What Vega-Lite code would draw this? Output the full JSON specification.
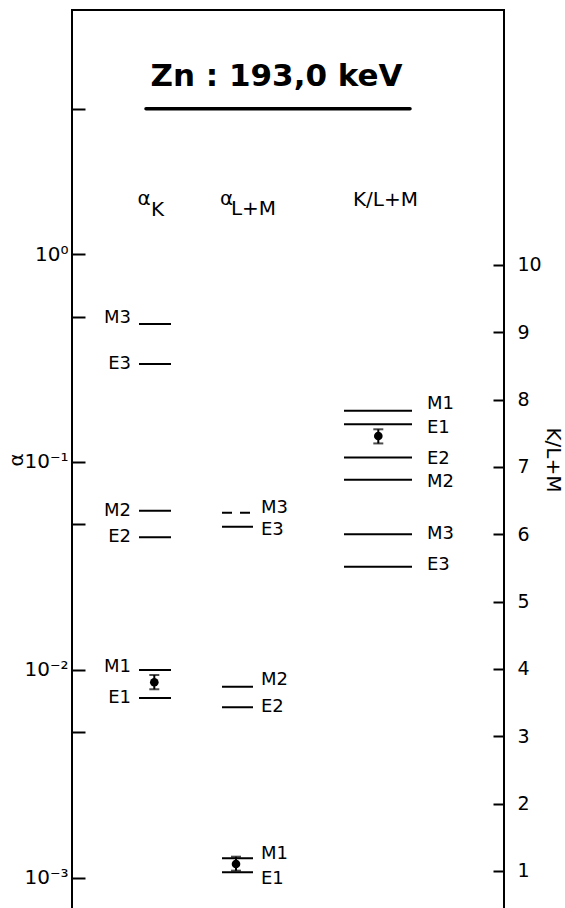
{
  "$schema": "https://vega.github.io/schema/vega-lite/v6.json",
  "width": 432,
  "height": 899,
  "autosize": {"type": "none"},
  "padding": {"left": 72, "top": 10, "right": 61, "bottom": 0},
  "background": "white",
  "config": {
    "view": {"stroke": "black", "strokeWidth": 2},
    "font": "DejaVu Sans",
    "text": {"font": "DejaVu Sans", "color": "black"},
    "axis": {"labelFont": "DejaVu Sans", "titleFont": "DejaVu Sans", "labelColor": "black", "titleColor": "black", "tickColor": "black", "grid": false, "domain": false, "labelOverlap": false, "titleFontWeight": "normal"}
  },
  "datasets": {
    "alpha_lines": [
      {"col": "αK", "name": "M3", "alpha": 0.4605, "tag": 0.495, "x": 67, "x2": 99, "source": "theory"},
      {"col": "αK", "name": "E3", "alpha": 0.2958, "tag": 0.2958, "x": 67, "x2": 99, "source": "theory"},
      {"col": "αK", "name": "M2", "alpha": 0.0582, "tag": 0.0582, "x": 67, "x2": 99, "source": "theory"},
      {"col": "αK", "name": "E2", "alpha": 0.0434, "tag": 0.0434, "x": 67, "x2": 99, "source": "theory"},
      {"col": "αK", "name": "M1", "alpha": 0.00998, "tag": 0.01026, "x": 67, "x2": 99, "source": "theory"},
      {"col": "αK", "name": "E1", "alpha": 0.00732, "tag": 0.00732, "x": 67, "x2": 99, "source": "theory"},
      {"col": "αL+M", "name": "M3", "alpha": 0.057, "tag": 0.06002, "x": 150, "x2": 181, "source": "extrapolated"},
      {"col": "αL+M", "name": "E3", "alpha": 0.0488, "tag": 0.04703, "x": 150, "x2": 181, "source": "theory"},
      {"col": "αL+M", "name": "M2", "alpha": 0.00829, "tag": 0.00893, "x": 150, "x2": 181, "source": "theory"},
      {"col": "αL+M", "name": "E2", "alpha": 0.0066, "tag": 0.0066, "x": 150, "x2": 181, "source": "theory"},
      {"col": "αL+M", "name": "M1", "alpha": 0.00124, "tag": 0.001307, "x": 150, "x2": 181, "source": "theory"},
      {"col": "αL+M", "name": "E1", "alpha": 0.001062, "tag": 0.000986, "x": 150, "x2": 181, "source": "theory"}
    ],
    "ratio_lines": [
      {"name": "M1", "ratio": 7.836, "tag": 7.93, "x": 272, "x2": 340},
      {"name": "E1", "ratio": 7.634, "tag": 7.58, "x": 272, "x2": 340},
      {"name": "E2", "ratio": 7.14, "tag": 7.12, "x": 272, "x2": 340},
      {"name": "M2", "ratio": 6.81, "tag": 6.777, "x": 272, "x2": 340},
      {"name": "M3", "ratio": 6.0, "tag": 6.005, "x": 272, "x2": 340},
      {"name": "E3", "ratio": 5.52, "tag": 5.545, "x": 272, "x2": 340}
    ],
    "alpha_measured": [
      {"col": "αK", "x": 82.3, "alpha": 0.00871, "lo": 0.00806, "hi": 0.00944},
      {"col": "αL+M", "x": 164, "alpha": 0.001164, "lo": 0.001081, "hi": 0.001262}
    ],
    "ratio_measured": [
      {"x": 306.3, "ratio": 7.46, "lo": 7.35, "hi": 7.56}
    ],
    "headers": [
      {"text": "α", "x": 72, "alpha": 1.849},
      {"text": "K", "x": 85.5, "alpha": 1.637},
      {"text": "α", "x": 154.5, "alpha": 1.849},
      {"text": "L+M", "x": 181.5, "alpha": 1.655},
      {"text": "K/L+M", "x": 313.5, "alpha": 1.819}
    ],
    "title": [
      {"text": "Zn : 193,0 keV", "x": 204.5, "x_start": 74, "x_end": 338, "alpha": 7.1, "underline": 5}
    ]
  },
  "layer": [
    {
      "layer": [
        {
          "data": {"name": "alpha_lines"},
          "mark": {"type": "rule", "strokeWidth": 2, "color": "black"},
          "encoding": {
            "x": {"field": "x", "type": "quantitative", "scale": {"domain": [0, 432], "nice": false, "zero": false}, "axis": null},
            "x2": {"field": "x2"},
            "y": {
              "field": "alpha", "type": "quantitative",
              "scale": {"type": "log", "domain": [0.000707, 14.92], "nice": false},
              "axis": {
                "orient": "left", "title": "α", "titleFontSize": 20, "titlePadding": -3,
                "values": [0.001, 0.005, 0.01, 0.05, 0.1, 0.5, 1, 5],
                "labelExpr": "datum.value == 1 ? '10⁰' : datum.value == 0.1 ? '10⁻¹' : datum.value == 0.01 ? '10⁻²' : datum.value == 0.001 ? '10⁻³' : ''",
                "tickSize": -13, "tickWidth": 2, "labelPadding": 17, "labelFontSize": 20
              }
            },
            "strokeDash": {"field": "source", "type": "nominal", "scale": {"domain": ["theory", "extrapolated"], "range": [[1, 0], [10, 8]]}, "legend": null}
          }
        },
        {
          "data": {"name": "alpha_lines"},
          "transform": [{"filter": "datum.col == 'αK'"}],
          "mark": {"type": "text", "align": "right", "baseline": "middle", "dx": -8, "fontSize": 18},
          "encoding": {
            "x": {"field": "x", "type": "quantitative", "scale": {"domain": [0, 432]}},
            "y": {"field": "tag", "type": "quantitative"},
            "text": {"field": "name"}
          }
        },
        {
          "data": {"name": "alpha_lines"},
          "transform": [{"filter": "datum.col == 'αL+M'"}],
          "mark": {"type": "text", "align": "left", "baseline": "middle", "dx": 8, "fontSize": 18},
          "encoding": {
            "x": {"field": "x2", "type": "quantitative", "scale": {"domain": [0, 432]}},
            "y": {"field": "tag", "type": "quantitative"},
            "text": {"field": "name"}
          }
        },
        {
          "data": {"name": "alpha_measured"},
          "mark": {"type": "rule", "strokeWidth": 2, "color": "black"},
          "encoding": {
            "x": {"field": "x", "type": "quantitative", "scale": {"domain": [0, 432]}},
            "y": {"field": "lo", "type": "quantitative"},
            "y2": {"field": "hi"}
          }
        },
        {
          "data": {"name": "alpha_measured"},
          "mark": {"type": "tick", "orient": "horizontal", "size": 10, "thickness": 2, "color": "black"},
          "encoding": {
            "x": {"field": "x", "type": "quantitative", "scale": {"domain": [0, 432]}},
            "y": {"field": "lo", "type": "quantitative"}
          }
        },
        {
          "data": {"name": "alpha_measured"},
          "mark": {"type": "tick", "orient": "horizontal", "size": 10, "thickness": 2, "color": "black"},
          "encoding": {
            "x": {"field": "x", "type": "quantitative", "scale": {"domain": [0, 432]}},
            "y": {"field": "hi", "type": "quantitative"}
          }
        },
        {
          "data": {"name": "alpha_measured"},
          "mark": {"type": "circle", "size": 75, "color": "black", "opacity": 1},
          "encoding": {
            "x": {"field": "x", "type": "quantitative", "scale": {"domain": [0, 432]}},
            "y": {"field": "alpha", "type": "quantitative"}
          }
        },
        {
          "data": {"name": "headers"},
          "mark": {"type": "text", "align": "center", "baseline": "middle", "fontSize": 20},
          "encoding": {
            "x": {"field": "x", "type": "quantitative", "scale": {"domain": [0, 432]}},
            "y": {"field": "alpha", "type": "quantitative"},
            "text": {"field": "text"}
          }
        },
        {
          "data": {"name": "title"},
          "mark": {"type": "text", "align": "center", "baseline": "middle", "fontSize": 31, "fontWeight": "bold"},
          "encoding": {
            "x": {"field": "x", "type": "quantitative", "scale": {"domain": [0, 432]}},
            "y": {"field": "alpha", "type": "quantitative"},
            "text": {"field": "text"}
          }
        },
        {
          "data": {"name": "title"},
          "mark": {"type": "rule", "strokeWidth": 3.5, "color": "black", "strokeCap": "round"},
          "encoding": {
            "x": {"field": "x_start", "type": "quantitative", "scale": {"domain": [0, 432]}},
            "x2": {"field": "x_end"},
            "y": {"field": "underline", "type": "quantitative"}
          }
        }
      ]
    },
    {
      "layer": [
        {
          "data": {"name": "ratio_lines"},
          "mark": {"type": "rule", "strokeWidth": 2, "color": "black"},
          "encoding": {
            "x": {"field": "x", "type": "quantitative", "scale": {"domain": [0, 432]}},
            "x2": {"field": "x2"},
            "y": {
              "field": "ratio", "type": "quantitative",
              "scale": {"domain": [0.4356, 13.787], "nice": false, "zero": false},
              "axis": {
                "orient": "right", "title": "K/L+M", "titleFontSize": 20, "titlePadding": 1,
                "values": [1, 2, 3, 4, 5, 6, 7, 8, 9, 10], "format": "d",
                "tickSize": -11, "tickWidth": 2, "labelPadding": 24, "labelFontSize": 19
              }
            }
          }
        },
        {
          "data": {"name": "ratio_lines"},
          "mark": {"type": "text", "align": "left", "baseline": "middle", "dx": 15, "fontSize": 18},
          "encoding": {
            "x": {"field": "x2", "type": "quantitative", "scale": {"domain": [0, 432]}},
            "y": {"field": "tag", "type": "quantitative"},
            "text": {"field": "name"}
          }
        },
        {
          "data": {"name": "ratio_measured"},
          "mark": {"type": "rule", "strokeWidth": 2, "color": "black"},
          "encoding": {
            "x": {"field": "x", "type": "quantitative", "scale": {"domain": [0, 432]}},
            "y": {"field": "lo", "type": "quantitative"},
            "y2": {"field": "hi"}
          }
        },
        {
          "data": {"name": "ratio_measured"},
          "mark": {"type": "tick", "orient": "horizontal", "size": 10, "thickness": 2, "color": "black"},
          "encoding": {
            "x": {"field": "x", "type": "quantitative", "scale": {"domain": [0, 432]}},
            "y": {"field": "lo", "type": "quantitative"}
          }
        },
        {
          "data": {"name": "ratio_measured"},
          "mark": {"type": "tick", "orient": "horizontal", "size": 10, "thickness": 2, "color": "black"},
          "encoding": {
            "x": {"field": "x", "type": "quantitative", "scale": {"domain": [0, 432]}},
            "y": {"field": "hi", "type": "quantitative"}
          }
        },
        {
          "data": {"name": "ratio_measured"},
          "mark": {"type": "circle", "size": 75, "color": "black", "opacity": 1},
          "encoding": {
            "x": {"field": "x", "type": "quantitative", "scale": {"domain": [0, 432]}},
            "y": {"field": "ratio", "type": "quantitative"}
          }
        }
      ]
    }
  ],
  "resolve": {"scale": {"y": "independent"}, "axis": {"y": "independent"}}
}
